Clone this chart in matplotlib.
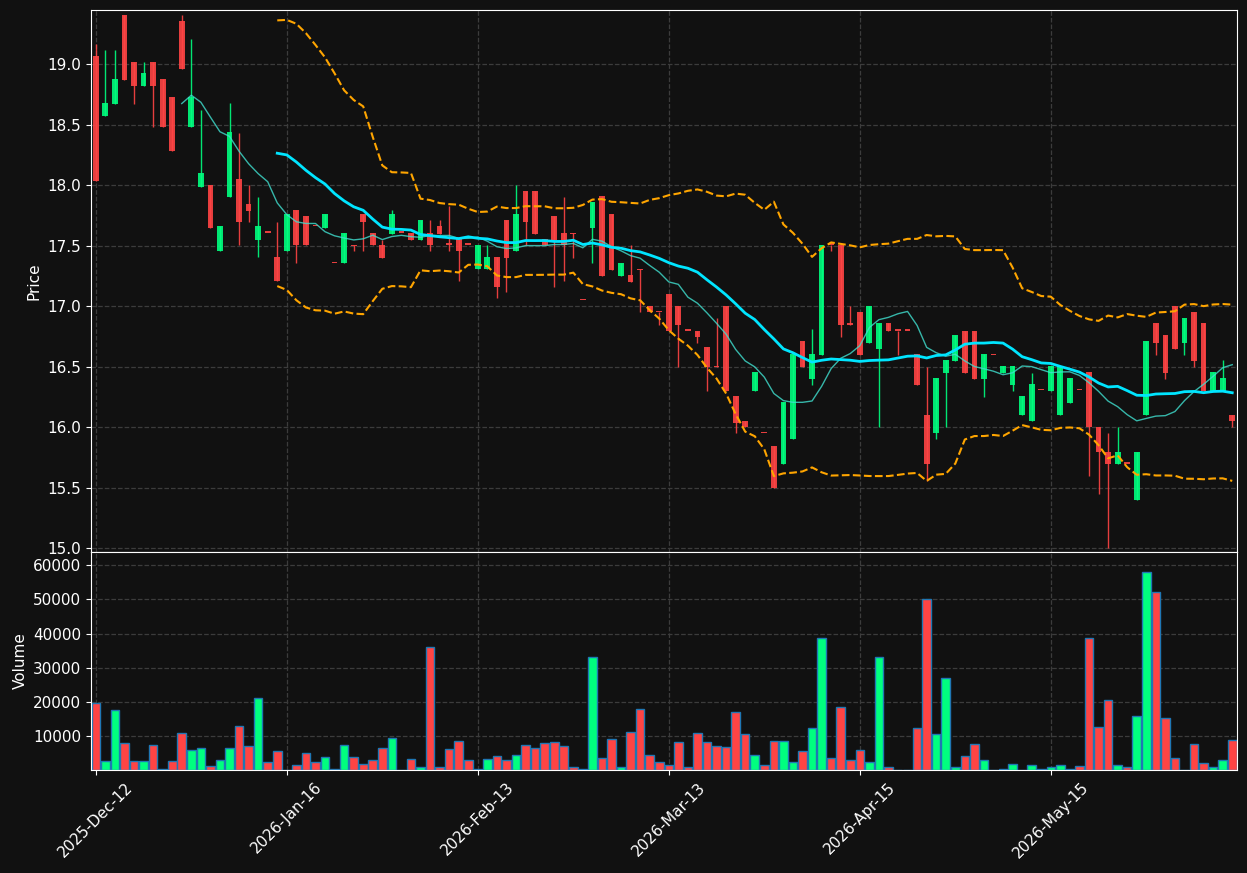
import numpy as np
import pandas as pd
import matplotlib
matplotlib.use("Agg")
import matplotlib.pyplot as plt

# daily OHLC (120 trading days)
opens = [19.07, 18.57, 18.67, 19.41, 19.02, 18.82, 19.02, 18.88, 18.73, 19.36,
         18.48, 17.99, 18.00, 17.46, 17.90, 18.05, 17.85, 17.55, 17.61, 17.41,
         17.46, 17.80, 17.75, 17.66, 17.65, 17.36, 17.36, 17.51, 17.76, 17.61,
         17.51, 17.60, 17.61, 17.61, 17.55, 17.61, 17.66, 17.51, 17.56, 17.51,
         17.31, 17.31, 17.41, 17.71, 17.46, 17.95, 17.95, 17.56, 17.75, 17.61,
         17.61, 17.05, 17.65, 17.91, 17.76, 17.25, 17.26, 17.31, 17.00, 16.95,
         17.10, 17.00, 16.80, 16.80, 16.66, 16.50, 17.00, 16.26, 16.05, 16.30,
         15.95, 15.85, 15.70, 15.90, 16.71, 16.40, 16.60, 17.51, 17.51, 16.85,
         16.95, 16.70, 16.65, 16.86, 16.80, 16.80, 16.61, 16.10, 15.95, 16.45,
         16.55, 16.80, 16.80, 16.40, 16.60, 16.45, 16.35, 16.10, 16.05, 16.31,
         16.30, 16.10, 16.20, 16.31, 16.46, 16.00, 15.80, 15.70, 15.70, 15.40,
         16.10, 16.86, 16.76, 17.00, 16.70, 16.95, 16.86, 16.30, 16.30, 16.10]
highs = [19.17, 19.12, 19.12, 19.41, 19.02, 19.02, 19.02, 18.88, 18.73, 19.41,
         19.21, 18.62, 18.00, 17.66, 18.68, 18.43, 18.00, 17.90, 17.61, 17.70,
         17.76, 17.80, 17.75, 17.66, 17.76, 17.36, 17.61, 17.51, 17.76, 17.61,
         17.55, 17.80, 17.61, 17.61, 17.71, 17.71, 17.71, 17.83, 17.56, 17.51,
         17.51, 17.51, 17.41, 17.71, 18.00, 17.95, 17.95, 17.56, 17.75, 17.90,
         17.61, 17.05, 17.86, 17.91, 17.76, 17.36, 17.51, 17.31, 17.00, 16.95,
         17.10, 17.00, 16.80, 16.80, 16.66, 16.90, 17.00, 16.26, 16.05, 16.46,
         15.95, 15.85, 16.21, 16.61, 16.71, 16.81, 17.51, 17.51, 17.51, 17.00,
         16.95, 17.00, 16.86, 16.86, 16.80, 16.80, 16.61, 16.50, 16.41, 16.56,
         16.76, 16.80, 16.80, 16.61, 16.60, 16.51, 16.51, 16.26, 16.45, 16.31,
         16.51, 16.51, 16.41, 16.31, 16.46, 16.00, 15.95, 16.00, 15.70, 15.80,
         16.71, 16.86, 16.76, 17.00, 16.90, 16.95, 16.86, 16.46, 16.56, 16.10]
lows = [18.04, 18.57, 18.67, 18.87, 18.67, 18.82, 18.48, 18.48, 18.28, 18.96,
        18.48, 17.99, 17.65, 17.46, 17.90, 17.51, 17.70, 17.41, 17.61, 17.21,
        17.46, 17.36, 17.51, 17.66, 17.65, 17.36, 17.36, 17.46, 17.46, 17.51,
        17.40, 17.60, 17.61, 17.55, 17.55, 17.46, 17.60, 17.46, 17.21, 17.51,
        17.31, 17.31, 17.07, 17.12, 17.46, 17.51, 17.60, 17.51, 17.16, 17.21,
        17.40, 17.05, 17.36, 17.25, 17.30, 17.25, 17.20, 16.95, 16.95, 16.85,
        16.80, 16.50, 16.80, 16.70, 16.30, 16.50, 16.30, 15.95, 16.00, 16.30,
        15.95, 15.50, 15.70, 15.90, 16.50, 16.35, 16.60, 17.46, 16.75, 16.85,
        16.60, 16.70, 16.00, 16.80, 16.60, 16.80, 16.35, 15.56, 15.90, 16.00,
        16.55, 16.45, 16.40, 16.25, 16.60, 16.45, 16.30, 16.10, 16.05, 16.31,
        16.30, 16.10, 16.20, 16.31, 15.60, 15.45, 15.00, 15.70, 15.70, 15.40,
        16.10, 16.60, 16.40, 16.65, 16.60, 16.50, 16.30, 16.30, 16.30, 16.00]
closes = [18.04, 18.68, 18.88, 18.87, 18.82, 18.93, 18.82, 18.48, 18.28, 18.96,
          18.73, 18.10, 17.65, 17.66, 18.44, 17.70, 17.79, 17.66, 17.61, 17.21,
          17.76, 17.51, 17.51, 17.66, 17.76, 17.36, 17.61, 17.50, 17.70, 17.51,
          17.40, 17.76, 17.61, 17.55, 17.71, 17.51, 17.60, 17.51, 17.46, 17.51,
          17.51, 17.41, 17.16, 17.40, 17.76, 17.70, 17.60, 17.51, 17.55, 17.51,
          17.60, 17.05, 17.86, 17.25, 17.30, 17.36, 17.20, 17.30, 16.95, 16.95,
          16.80, 16.85, 16.80, 16.75, 16.50, 16.50, 16.30, 16.04, 16.00, 16.46,
          15.95, 15.50, 16.21, 16.61, 16.50, 16.61, 17.51, 17.51, 16.85, 16.85,
          16.60, 17.00, 16.86, 16.80, 16.80, 16.80, 16.35, 15.70, 16.41, 16.56,
          16.76, 16.45, 16.40, 16.61, 16.60, 16.51, 16.51, 16.26, 16.36, 16.31,
          16.51, 16.51, 16.41, 16.31, 16.00, 15.80, 15.70, 15.80, 15.70, 15.80,
          16.71, 16.70, 16.45, 16.65, 16.90, 16.55, 16.30, 16.46, 16.41, 16.05]
volumes = [19600, 2500, 17600, 7800, 2500, 2500, 7300, 300, 2500, 10800,
           5800, 6400, 1100, 2850, 6400, 12850, 7000, 21100, 2250, 5500,
           100, 1400, 4900, 2250, 3700, 300, 7300, 3700, 1700, 2850,
           6400, 9300, 100, 3100, 800, 36100, 800, 6100, 8400, 2850,
           300, 3100, 4000, 2850, 4300, 7300, 6400, 7800, 8100, 7000,
           800, 300, 33100, 3400, 9000, 800, 11100, 17850, 4300, 2250,
           1400, 8100, 800, 10800, 8100, 7000, 6700, 17000, 10500, 4300,
           1400, 8400, 8400, 2250, 5500, 12250, 38700, 3400, 18400, 2850,
           5800, 2250, 33100, 800, 100, 100, 12250, 50200, 10500, 27000,
           800, 4000, 7600, 2850, 100, 300, 1700, 100, 1400, 300,
           800, 1400, 300, 1100, 38700, 12550, 20500, 1400, 800, 15800,
           58100, 52250, 15200, 3400, 100, 7600, 2000, 800, 2850, 8700]
tick_labels = ["2025-Dec-12", "2026-Jan-16", "2026-Feb-13",
               "2026-Mar-13", "2026-Apr-15", "2026-May-15"]

bg = "#111111"
up_col = "#00ff7f"
dn_col = "#ff4444"

o = np.array(opens)
h = np.array(highs)
l = np.array(lows)
c = np.array(closes)
v = np.array(volumes)
n = len(c)
x = np.arange(n)
cols = np.where(c > o, up_col, dn_col)

s = pd.Series(c)
ma10 = s.rolling(10).mean()
ma20 = s.rolling(20).mean()
sd20 = s.rolling(20).std(ddof=0)
upper = ma20 + 2 * sd20
lower = ma20 - 2 * sd20

fig = plt.figure(figsize=(12.47, 8.73), dpi=100, facecolor=bg)
ax1 = fig.add_axes([0.073, 0.3677, 0.919, 0.6208])
ax2 = fig.add_axes([0.073, 0.118, 0.919, 0.2497], sharex=ax1)

for ax in (ax1, ax2):
    ax.set_facecolor(bg)
    for sp in ax.spines.values():
        sp.set_color("white")
    ax.tick_params(colors="white", labelsize=11)
    ax.grid(True, linestyle="--", color="#3c3c3c", linewidth=0.9)
    ax.set_axisbelow(True)

# candles
ax1.vlines(x, l, h, color=cols, linewidth=1, alpha=0.9)
body = np.maximum(np.abs(c - o), 0.01)
ax1.bar(x, body, bottom=np.minimum(o, c), width=0.6, color=cols, alpha=0.9)

ax1.plot(x, ma10, color="#40e0d0", linewidth=1, alpha=0.8)
ax1.plot(x, ma20, color="#00e5ff", linewidth=2)
ax1.plot(x, upper, color="#ffa500", linewidth=1.5, linestyle="--")
ax1.plot(x, lower, color="#ffa500", linewidth=1.5, linestyle="--")

ax1.set_ylim(l.min() * 0.998, h.max() * 1.002)
ax1.set_yticks(np.arange(15.0, 19.01, 0.5))
ax1.set_ylabel("Price", color="white", fontsize=11)
ax1.tick_params(axis="x", labelbottom=False, length=0)

# volume
ax2.bar(x, v, width=0.9, color=cols, edgecolor="#1f77b4", linewidth=1)
ax2.set_ylim(0, v.max() * 1.1)
ax2.set_yticks(np.arange(10000, 60001, 10000))
ax2.set_ylabel("Volume", color="white", fontsize=11)
ax2.set_xlim(-0.5, n - 0.5)
ax2.set_xticks(x[::20])
ax2.set_xticklabels(tick_labels, rotation=45)

fig.savefig("out.png", dpi=100, facecolor=bg)
